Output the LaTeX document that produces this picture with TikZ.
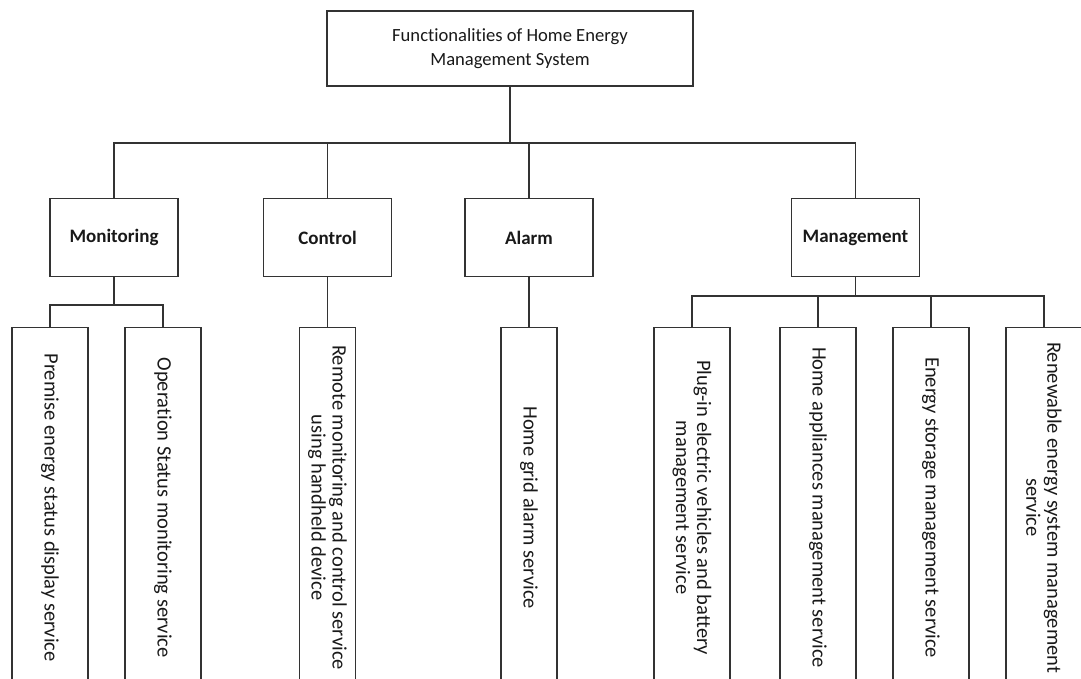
\documentclass[tikz,border=0pt]{standalone}
\usepackage{fontspec}
\setmainfont{Carlito}[Ligatures=NoCommon]

\begin{document}
\begin{tikzpicture}[
    x=1pt, y=-1pt,
    box/.style={rectangle, draw=black!80, line width=1.2pt, align=center, minimum width=128pt, minimum height=78pt, text=black!90, font=\fontsize{19}{24}\selectfont\bfseries},
    topbox/.style={box, minimum width=366pt, minimum height=75pt, font=\fontsize{18.6}{24}\selectfont},
    leaf/.style={rectangle, draw=black!80, line width=1.2pt, rotate=-90, anchor=west, align=center, minimum width=360pt, minimum height=76pt, text=black!90, font=\fontsize{20.5}{21}\selectfont},
    link/.style={draw=black!80, line width=1.2pt}
]
\useasboundingbox (0,0) rectangle (1081,679);
\clip (0,0) rectangle (1081,679);

\node[topbox] (hems) at (510,48.5) {Functionalities of Home Energy\\Management System};
\node[box] (mon) at (114,237.5) {Monitoring};
\node[box] (ctrl) at (327.5,237.5) {Control};
\node[box] (alarm) at (529,237.5) {Alarm};
\node[box] (mgmt) at (855.5,237.5) {Management};

\node[leaf] (premise) at (50,327) {Premise energy status display service};
\node[leaf] (opstatus) at (163,327) {Operation Status monitoring service};
\node[leaf, minimum height=56pt] (remote) at (327.5,327) {Remote monitoring and control service\\using handheld device};
\node[leaf, minimum height=56pt] (gridalarm) at (529,327) {Home grid alarm service};
\node[leaf] (plugin) at (692,327) {Plug-in electric vehicles and battery\\management service};
\node[leaf] (appliance) at (818,327) {Home appliances management service};
\node[leaf] (storage) at (931,327) {Energy storage management service};
\node[leaf] (renewable) at (1044,327) {Renewable energy system management\\service};

\coordinate (bus) at (510,143);
\coordinate (monbus) at (114,305);
\coordinate (mgmtbus) at (855.5,296);

% top level
\draw[link] (hems.south) -- (bus);
\draw[link] (bus) -| (mon.north);
\draw[link] (bus) -| (ctrl.north);
\draw[link] (bus) -| (alarm.north);
\draw[link] (bus) -| (mgmt.north);

% services
\draw[link] (mon.south) -- (monbus);
\draw[link] (monbus) -| (premise.west);
\draw[link] (monbus) -| (opstatus.west);
\draw[link] (ctrl.south) -- (remote.west);
\draw[link] (alarm.south) -- (gridalarm.west);
\draw[link] (mgmt.south) -- (mgmtbus);
\draw[link] (mgmtbus) -| (plugin.west);
\draw[link] (mgmtbus) -| (appliance.west);
\draw[link] (mgmtbus) -| (storage.west);
\draw[link] (mgmtbus) -| (renewable.west);
\end{tikzpicture}
\end{document}
